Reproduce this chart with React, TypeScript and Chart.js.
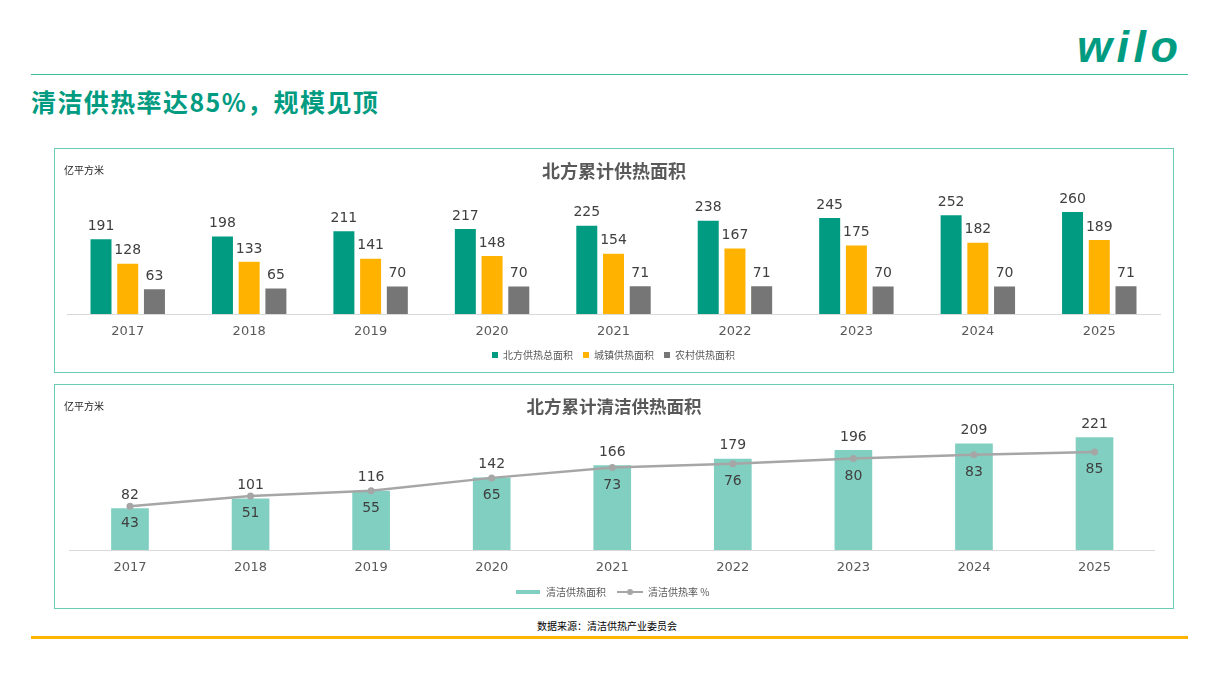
import React, { useEffect, useRef } from "react";
import { Chart, registerables } from "chart.js";

Chart.register(...registerables);

const years = ["2017", "2018", "2019", "2020", "2021", "2022", "2023", "2024", "2025"];
const totalArea = [191, 198, 211, 217, 225, 238, 245, 252, 260];
const urbanArea = [128, 133, 141, 148, 154, 167, 175, 182, 189];
const ruralArea = [63, 65, 70, 70, 71, 71, 70, 70, 71];
const cleanArea = [82, 101, 116, 142, 166, 179, 196, 209, 221];
const cleanRate = [43, 51, 55, 65, 73, 76, 80, 83, 85];

const NUM_FONT = "'DejaVu Sans', 'Noto Sans CJK SC', sans-serif";
const CJK_FONT = "'Noto Sans CJK SC', 'DejaVu Sans', sans-serif";
const GREEN = "#009b80";
const YELLOW = "#ffb300";
const GRAY = "#767676";
const LIGHT_TEAL = "#80cfc1";
const LINE_GRAY = "#a6a6a6";
const BORDER = "#6ccbb5";

const valueLabels = {
  id: "valueLabels",
  afterDatasetsDraw(chart: any) {
    const ctx = chart.ctx;
    chart.data.datasets.forEach((ds: any, i: number) => {
      const meta = chart.getDatasetMeta(i);
      if (meta.hidden) return;
      meta.data.forEach((el: any, j: number) => {
        const { x, y } = el.getProps(["x", "y"], true);
        ctx.save();
        ctx.font = `14px ${NUM_FONT}`;
        ctx.fillStyle = "#404040";
        ctx.textAlign = "center";
        ctx.textBaseline = "middle";
        ctx.fillText(String(ds.data[j]), x, y + (ds.labelOffset || 0));
        ctx.restore();
      });
    });
  },
};

function makeSwatch(kind: "bar" | "line") {
  const c = document.createElement("canvas");
  c.width = kind === "bar" ? 24 : 26;
  c.height = 8;
  const g = c.getContext("2d")!;
  if (kind === "bar") {
    g.fillStyle = LIGHT_TEAL;
    g.fillRect(0, 2, 24, 4);
  } else {
    g.strokeStyle = LINE_GRAY;
    g.lineWidth = 2;
    g.beginPath();
    g.moveTo(0, 4);
    g.lineTo(26, 4);
    g.stroke();
    g.fillStyle = LINE_GRAY;
    g.beginPath();
    g.arc(13, 4, 3, 0, Math.PI * 2);
    g.fill();
  }
  return c;
}

const xAxis = {
  grid: { display: false, drawTicks: false },
  border: { display: true, color: "#d9d9d9", width: 1 },
  ticks: { color: "#595959", font: { size: 13, family: NUM_FONT }, padding: 10 },
  afterFit: (scale: any) => {
    scale.height = 26;
  },
};

export default function App() {
  const ref1 = useRef<HTMLCanvasElement>(null);
  const ref2 = useRef<HTMLCanvasElement>(null);

  useEffect(() => {
    const c1 = new Chart(ref1.current!, {
      type: "bar",
      data: {
        labels: years,
        datasets: [
          { label: "北方供热总面积", data: totalArea, backgroundColor: GREEN, labelOffset: -13 } as any,
          { label: "城镇供热面积", data: urbanArea, backgroundColor: YELLOW, labelOffset: -13 } as any,
          { label: "农村供热面积", data: ruralArea, backgroundColor: GRAY, labelOffset: -13 } as any,
        ],
      },
      options: {
        responsive: false,
        animation: false,
        layout: { padding: { left: 12, right: 13, top: 47.4, bottom: 2 } },
        datasets: { bar: { categoryPercentage: 0.66, barPercentage: 0.786 } },
        scales: {
          x: xAxis as any,
          y: { display: false, min: 0, max: 300 },
        },
        plugins: {
          tooltip: { enabled: false },
          legend: {
            position: "bottom",
            labels: {
              usePointStyle: true,
              pointStyle: "rect",
              boxWidth: 6,
              boxHeight: 6,
              padding: 10,
              color: "#595959",
              font: { size: 10, family: CJK_FONT },
            },
          },
        },
      },
      plugins: [valueLabels],
    });

    const barImg = makeSwatch("bar");
    const lineImg = makeSwatch("line");

    const c2 = new Chart(ref2.current!, {
      type: "bar",
      data: {
        labels: years,
        datasets: [
          {
            type: "bar",
            label: "清洁供热面积",
            data: cleanArea,
            backgroundColor: LIGHT_TEAL,
            yAxisID: "y",
            order: 2,
            labelOffset: -13,
            barPercentage: 0.3125,
            categoryPercentage: 1,
          } as any,
          {
            type: "line",
            label: "清洁供热率 %",
            data: cleanRate,
            borderColor: LINE_GRAY,
            backgroundColor: LINE_GRAY,
            borderWidth: 2.5,
            pointRadius: 3.5,
            pointBorderWidth: 0,
            pointBackgroundColor: LINE_GRAY,
            tension: 0,
            yAxisID: "y1",
            order: 1,
            labelOffset: 17.5,
          } as any,
        ],
      },
      options: {
        responsive: false,
        animation: false,
        layout: { padding: { left: 14.7, right: 18.2, top: 37.5, bottom: 0 } },
        scales: {
          x: xAxis as any,
          y: { display: false, min: 0, max: 250 },
          y1: { display: false, min: 9, max: 108, position: "right" },
        },
        plugins: {
          tooltip: { enabled: false },
          legend: {
            position: "bottom",
            labels: {
              usePointStyle: true,
              pointStyleWidth: 26,
              boxHeight: 8,
              padding: 11,
              color: "#595959",
              font: { size: 10, family: CJK_FONT },
              generateLabels: (chart: any) => {
                const items = (Chart.defaults.plugins.legend.labels as any).generateLabels(chart);
                items.sort((a: any, b: any) => a.datasetIndex - b.datasetIndex);
                items.forEach((it: any) => {
                  it.pointStyle = it.datasetIndex === 0 ? barImg : lineImg;
                });
                return items;
              },
            },
          },
        },
      },
      plugins: [valueLabels],
    });

    return () => {
      c1.destroy();
      c2.destroy();
    };
  }, []);

  const abs = (s: React.CSSProperties): React.CSSProperties => ({ position: "absolute", ...s });

  return (
    <div style={abs({ left: 0, top: 0, width: 1218, height: 685, background: "#fff", overflow: "hidden", fontFamily: CJK_FONT })}>
      <div
        style={abs({
          left: 1077,
          top: 24.8,
          fontFamily: "'Liberation Sans', Arial, sans-serif",
          fontWeight: 700,
          fontStyle: "italic",
          fontSize: 45,
          lineHeight: "44px",
          letterSpacing: 4.5,
          color: "#009c82",
          whiteSpace: "nowrap",
        })}
      >
        wilo
      </div>
      <div style={abs({ left: 31, top: 73.5, width: 1157, height: 1.5, background: "#3dbf9f" })} />
      <div
        style={abs({
          left: 31,
          top: 86,
          fontSize: 25,
          lineHeight: "30px",
          fontWeight: 700,
          letterSpacing: 1.4,
          color: "#009b80",
          whiteSpace: "nowrap",
        })}
      >
        清洁供热率达85%，规模见顶
      </div>

      <div style={abs({ left: 54, top: 148, width: 1120, height: 225, border: `1.5px solid ${BORDER}`, boxSizing: "border-box" })} />
      <canvas ref={ref1} width={1118} height={223} style={abs({ left: 55, top: 149, width: 1118, height: 223 })} />
      <div style={abs({ left: 54, top: 159, width: 1120, textAlign: "center", fontSize: 18, lineHeight: "22px", fontWeight: 700, color: "#595959" })}>
        北方累计供热面积
      </div>
      <div style={abs({ left: 64, top: 163, fontSize: 10, lineHeight: "14px", color: "#262626" })}>亿平方米</div>

      <div style={abs({ left: 54, top: 384, width: 1120, height: 225, border: `1.5px solid ${BORDER}`, boxSizing: "border-box" })} />
      <canvas ref={ref2} width={1118} height={222} style={abs({ left: 55, top: 385, width: 1118, height: 222 })} />
      <div style={abs({ left: 54, top: 395, width: 1120, textAlign: "center", fontSize: 17.5, lineHeight: "22px", fontWeight: 700, color: "#595959" })}>
        北方累计清洁供热面积
      </div>
      <div style={abs({ left: 64, top: 399, fontSize: 10, lineHeight: "14px", color: "#262626" })}>亿平方米</div>

      <div style={abs({ left: 537, top: 619, fontSize: 10, lineHeight: "13px", color: "#000", fontWeight: 400, whiteSpace: "nowrap" })}>
        数据来源：清洁供热产业委员会
      </div>
      <div style={abs({ left: 31, top: 636, width: 1157, height: 3, background: "#ffb400" })} />
    </div>
  );
}
